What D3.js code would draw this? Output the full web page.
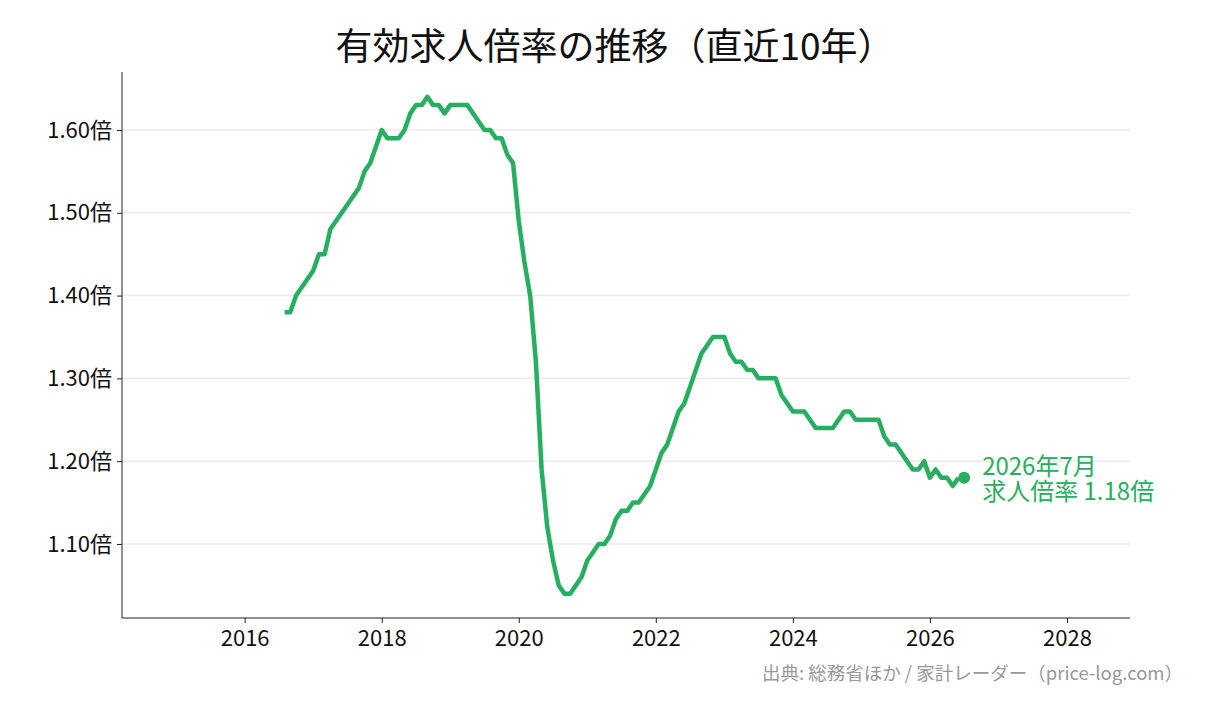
<!DOCTYPE html>
<html><head><meta charset="utf-8">
<script src="https://cdn.jsdelivr.net/npm/d3@7"></script>
<style>body{margin:0;background:#fff}svg{font-family:"Noto Sans CJK JP","Noto Sans",sans-serif}</style>
</head><body><svg id="c" width="1218" height="711"></svg>
<script>
const startYear = 2016, startMonth = 8;
const values = [1.38,1.38,1.40,1.41,1.42,1.43,1.45,1.45,1.48,1.49,1.50,1.51,1.52,1.53,1.55,1.56,1.58,1.60,
1.59,1.59,1.59,1.60,1.62,1.63,1.63,1.64,1.63,1.63,1.62,1.63,1.63,1.63,1.63,1.62,1.61,1.60,1.60,1.59,1.59,1.57,1.56,
1.49,1.44,1.40,1.32,1.19,1.12,1.08,1.05,1.04,1.04,
1.05,1.06,1.08,1.09,1.10,1.10,1.11,1.13,1.14,1.14,
1.15,1.15,1.16,1.17,1.19,1.21,1.22,1.24,1.26,1.27,
1.29,1.31,1.33,1.34,1.35,1.35,1.35,1.33,1.32,1.32,
1.31,1.31,1.30,1.30,1.30,1.30,1.28,1.27,1.26,1.26,
1.26,1.25,1.24,1.24,1.24,1.24,1.25,1.26,1.26,1.25,
1.25,1.25,1.25,1.25,1.23,1.22,1.22,1.21,1.20,1.19,
1.19,1.20,1.18,1.19,1.18,1.18,1.17,1.18];
const latest = {year:2026, month:7, value:1.18};
const xTicks = [2016,2018,2020,2022,2024,2026,2028];
const yTicks = [1.10,1.20,1.30,1.40,1.50,1.60];
const green = "#27ae60";

const svg = d3.select("#c");
const x = d3.scaleLinear().domain([2014.21,2028.92]).range([122,1130]);
const y = d3.scaleLinear().domain([1.0106,1.670]).range([618,72]);
const t = (i) => startYear + (startMonth-1+i)/12;

svg.append("text").attr("x",615).attr("y",60).attr("text-anchor","middle")
  .attr("font-size",37).attr("fill","#111").text("有効求人倍率の推移（直近10年）");

svg.append("g").selectAll("line").data(yTicks).join("line")
  .attr("x1",122).attr("x2",1130).attr("y1",d=>y(d)).attr("y2",d=>y(d))
  .attr("stroke","#ebebeb").attr("stroke-width",1.5);

const gx = svg.append("g").attr("transform","translate(0,618)")
  .call(d3.axisBottom(x).tickValues(xTicks).tickFormat(d3.format("d")).tickSize(5).tickPadding(7));
const gy = svg.append("g").attr("transform","translate(122,0)")
  .call(d3.axisLeft(y).tickValues(yTicks).tickFormat(d=>d.toFixed(2)+"倍").tickSize(5).tickPadding(5));
[gx,gy].forEach(g=>{g.selectAll("text").attr("font-size",22).attr("fill","#111").style("font-family",'"Noto Sans CJK JP"');
  g.select(".domain").attr("stroke","#222"); g.selectAll(".tick line").attr("stroke","#222");});
gx.select(".domain").attr("d","M122,0H1130");
gy.select(".domain").attr("d","M0,72V618");

svg.append("path").datum(values).attr("fill","none").attr("stroke",green)
  .attr("stroke-width",4.5).attr("stroke-linejoin","round")
  .attr("d",d3.line().x((d,i)=>x(t(i))).y(d=>y(d)));

const lx = x(latest.year+(latest.month-1)/12), ly = y(latest.value);
svg.append("circle").attr("cx",lx).attr("cy",ly).attr("r",6).attr("fill",green);
const lab = svg.append("text").attr("fill",green).attr("font-size",24);
lab.append("tspan").attr("x",lx+18).attr("y",ly-3).text(`${latest.year}年${latest.month}月`);
lab.append("tspan").attr("x",lx+18).attr("y",ly+22).text(`求人倍率 ${latest.value.toFixed(2)}倍`);

svg.append("text").attr("x",1183).attr("y",680).attr("text-anchor","end")
  .attr("font-size",18.5).attr("fill","#999").text("出典: 総務省ほか / 家計レーダー（price-log.com）");
</script></body></html>
